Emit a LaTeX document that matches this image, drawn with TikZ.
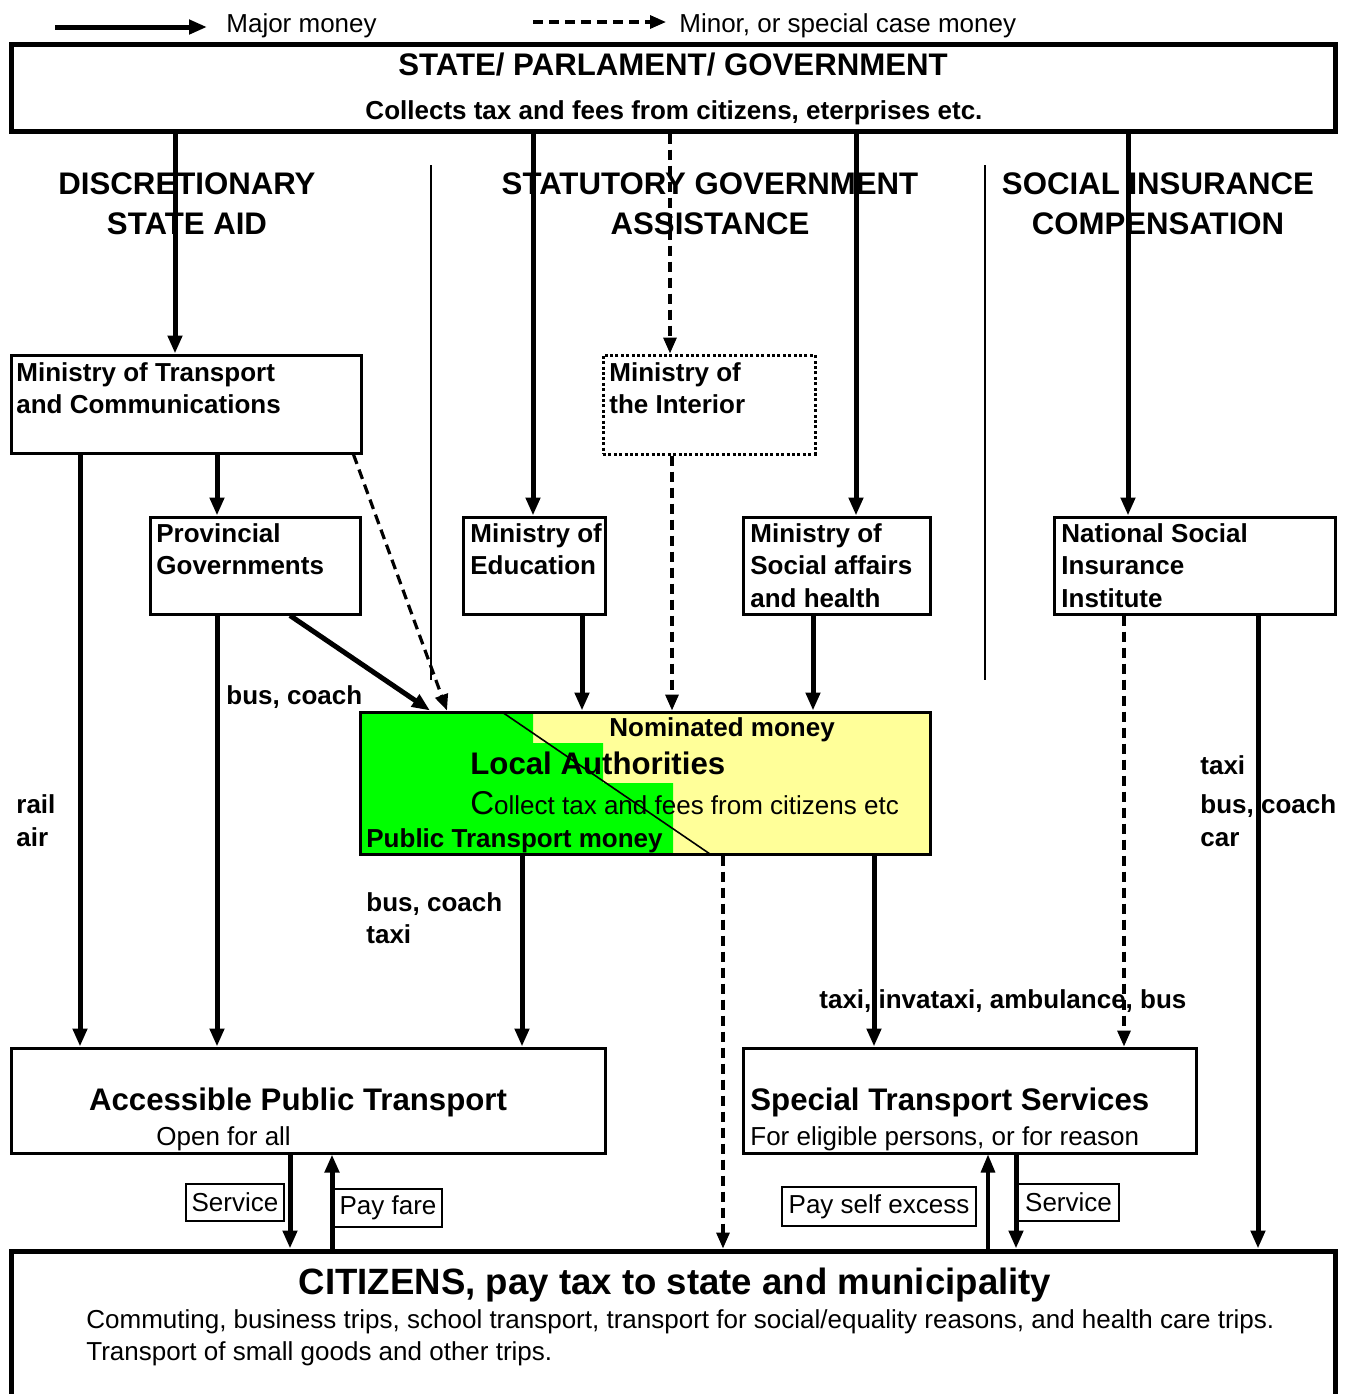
\documentclass[tikz,border=0pt]{standalone}
\usepackage{fontspec}
\setmainfont{Liberation Sans}
\usetikzlibrary{arrows.meta, fit, positioning}

\definecolor{laGreen}{RGB}{0,255,0}
\definecolor{laYellow}{RGB}{255,255,153}

\newcommand{\headfont}{\fontsize{15.6}{20}\selectfont\bfseries}
\newcommand{\boxfont}{\fontsize{13}{16.3}\selectfont\bfseries}
\newcommand{\plainfont}{\fontsize{13}{16}\selectfont}
\newcommand{\citfont}{\fontsize{18.3}{22}\selectfont\bfseries}

\tikzset{
    box/.style = {draw, line width = 1.5pt, inner sep = 0pt},
    heavybox/.style = {draw, line width = 2.5pt, inner sep = 0pt},
    tagbox/.style = {draw, line width = 0.8pt, inner sep = 0pt},
    tagtext/.style = {inner sep = 0pt, font = \plainfont},
    major/.style = {line width = 2.5pt, -{Triangle[width = 7pt, length = 9pt]}},
    minor/.style = {line width = 1.6pt, dash pattern = on 5pt off 3pt, -{Triangle[width = 6.5pt, length = 8pt]}},
    boxtext/.style = {inner sep = 0pt, anchor = north west, align = left, font = \boxfont},
    lbl/.style = {inner sep = 0pt, anchor = base west, font = \boxfont},
    plainlbl/.style = {inner sep = 0pt, anchor = base west, font = \plainfont},
    heading/.style = {inner sep = 0pt, anchor = north, align = center, font = \headfont}
}

\begin{document}
\begin{tikzpicture}[x = 0.5pt, y = -0.5pt]
    \useasboundingbox (0, 0) rectangle (1348, 1394);
    \fill[white] (0, 0) rectangle (1348, 1394);

    % legend
    \coordinate (majA) at (55, 27);
    \coordinate (majB) at (207, 27);
    \draw[major] (majA) -- (majB);
    \node[plainlbl] (majlbl) at (226, 32) {Major money};
    \coordinate (minA) at (533, 22);
    \coordinate (minB) at (666, 22);
    \draw[minor] (minA) -- (minB);
    \node[plainlbl] (minlbl) at (679, 32) {Minor, or special case money};

    % state
    \node[heavybox, fit = {(11, 44) (1335, 131)}] (state) {};
    \node[anchor = base, inner sep = 0pt, font = \headfont] (statetitle) at (673, 75) {STATE/ PARLAMENT/ GOVERNMENT};
    \node[anchor = base, inner sep = 0pt, font = \boxfont] (statesub) at (674, 119) {Collects tax and fees from citizens, eterprises etc.};

    \node[heading] (disc) at (187, 172) {DISCRETIONARY\\STATE AID};
    \node[heading] (stat) at (710, 172) {STATUTORY GOVERNMENT\\ASSISTANCE};
    \node[heading] (soc) at (1158, 172) {SOCIAL INSURANCE\\COMPENSATION};

    \draw[line width = 1.2pt] (431, 165) -- (431, 680);
    \draw[line width = 1.2pt] (985, 165) -- (985, 680);

    % ministries
    \node[box, fit = {(11, 355) (361, 453)}] (transport) {};
    \node[boxtext] at (16, 362) {Ministry of Transport\\and Communications};
    \node[box, dash pattern = on 1.5pt off 1.2pt, fit = {(603, 355) (815, 454)}] (interior) {};
    \node[boxtext] at (609, 362) {Ministry of\\the Interior};
    \node[box, fit = {(150, 517) (360, 614)}] (provincial) {};
    \node[boxtext] at (156, 523) {Provincial\\Governments};
    \node[box, fit = {(463, 517) (605, 614)}] (education) {};
    \node[boxtext] at (470, 523) {Ministry of\\Education};
    \node[box, fit = {(743, 517) (930, 614)}] (social) {};
    \node[boxtext] at (750, 523) {Ministry of\\Social affairs\\and health};
    \node[box, fit = {(1054, 517) (1335, 614)}] (insurance) {};
    \node[boxtext] at (1061, 523) {National Social\\Insurance\\Institute};

    % local authorities
    \fill[laYellow] (360, 712) rectangle (930, 854);
    \fill[laGreen] (360, 712) -- (533, 712) -- (533, 743) -- (603, 743) -- (603, 783) -- (673, 783) -- (673, 854) -- (360, 854) -- cycle;
    \draw[line width = 0.8pt] (502, 712) -- (710, 854);
    \node[box, fit = {(360, 712) (930, 854)}] (local) {};
    \node[lbl] at (609, 736) {Nominated money};
    \node[lbl, font = \headfont] at (470, 774) {Local Authorities};
    \node[plainlbl] at (470, 814) {{\fontsize{16.5}{16}\selectfont C}ollect tax and fees from citizens etc};
    \node[lbl] at (366, 847) {Public Transport money};

    % transport services
    \node[box, fit = {(11, 1048) (605, 1153)}] (public) {};
    \node[anchor = base, inner sep = 0pt, font = \headfont] at (298, 1110) {Accessible Public Transport};
    \node[plainlbl] at (156, 1145) {Open for all};
    \node[box, fit = {(743, 1048) (1196, 1153)}] (special) {};
    \node[lbl, font = \headfont] at (750, 1110) {Special Transport Services};
    \node[plainlbl] at (750, 1145) {For eligible persons, or for reason};

    \node[heavybox, fit = {(11, 1251) (1335, 1440)}] (citizens) {};
    \node[anchor = base, inner sep = 0pt, font = \citfont] at (675, 1294) {CITIZENS, pay tax to state and municipality};
    \node[plainlbl] at (86, 1328) {Commuting, business trips, school transport, transport for social/equality reasons, and health care trips.};
    \node[plainlbl] at (86, 1360) {Transport of small goods and other trips.};

    % money flows
    \draw[major] (state.south -| 175,0) -- (transport.north -| 175,0);
    \draw[major] (state.south -| 533,0) -- (education.north -| 533,0);
    \draw[minor] (state.south -| 670,0) -- (interior.north -| 670,0);
    \draw[major] (state.south -| 856,0) -- (social.north -| 856,0);
    \draw[major] (state.south -| 1128,0) -- (insurance.north -| 1128,0);

    \draw[major] (transport.south -| 80,0) -- (public.north -| 80,0);
    \draw[major] (transport.south -| 217,0) -- (provincial.north -| 217,0);
    \draw[minor] ([xshift = -4.5pt]transport.south east) -- (local.north -| 447,0);
    \draw[major] (provincial.south -| 290,0) -- (local.north -| 430,0);
    \draw[major] (provincial.south -| 217,0) -- (public.north -| 217,0);
    \draw[major] (education.south -| 582,0) -- (local.north -| 582,0);
    \draw[minor] (interior.south -| 672,0) -- (local.north -| 672,0);
    \draw[major] (social.south -| 813,0) -- (local.north -| 813,0);
    \draw[minor] (insurance.south -| 1124,0) -- (special.north -| 1124,0);
    \draw[major] (insurance.south -| 1258,0) -- (citizens.north -| 1258,0);

    \draw[major] (local.south -| 522,0) -- (public.north -| 522,0);
    \draw[minor] (local.south -| 723,0) -- (citizens.north -| 723,0);
    \draw[major] (local.south -| 874,0) -- (special.north -| 874,0);

    \draw[major] (public.south -| 290,0) -- (citizens.north -| 290,0);
    \draw[major] (citizens.north -| 332,0) -- (public.south -| 332,0);
    \draw[major, line width = 1.6pt] (citizens.north -| 988,0) -- (special.south -| 988,0);
    \draw[major] (special.south -| 1016,0) -- (citizens.north -| 1016,0);

    \node[tagbox, fit = {(186, 1184) (284, 1221)}] (svcpublic) {};
    \node[tagtext] at (svcpublic.center) {Service};
    \node[tagbox, fit = {(334, 1189) (442, 1227)}] (fare) {};
    \node[tagtext] at (fare.center) {Pay fare};
    \node[tagbox, fit = {(782, 1187) (976, 1226)}] (excess) {};
    \node[tagtext] at (excess.center) {Pay self excess};
    \node[tagbox, fit = {(1018, 1184) (1119, 1221)}] (svcspecial) {};
    \node[tagtext] at (svcspecial.center) {Service};

    % modes
    \node[lbl] at (226, 704) {bus, coach};
    \node[lbl] at (16, 813) {rail};
    \node[lbl] at (16, 846) {air};
    \node[lbl] at (366, 911) {bus, coach};
    \node[lbl] at (366, 943) {taxi};
    \node[lbl] at (819, 1008) {taxi, invataxi, ambulance, bus};
    \node[lbl] at (1200, 774) {taxi};
    \node[lbl] at (1200, 813) {bus, coach};
    \node[lbl] at (1200, 846) {car};
\end{tikzpicture}
\end{document}
